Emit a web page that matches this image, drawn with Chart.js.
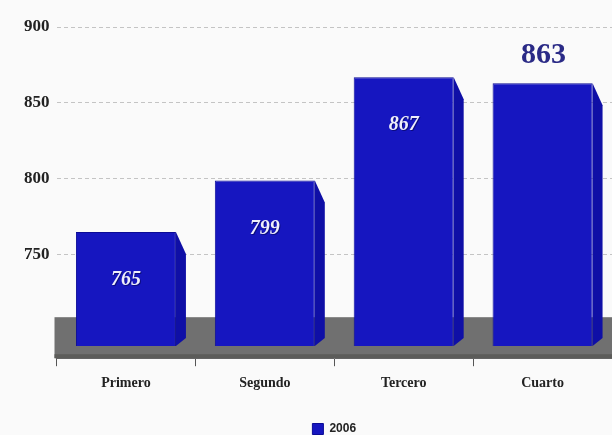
<!DOCTYPE html>
<html>
<head>
<meta charset="utf-8">
<script src="https://cdn.jsdelivr.net/npm/chart.js@4.4.1/dist/chart.umd.min.js"></script>
<style>
  html, body { margin: 0; padding: 0; background: #fafafa; overflow: hidden; }
  #wrap { width: 612px; height: 435px; }
</style>
</head>
<body>
<div id="wrap"><canvas id="c"></canvas></div>
<script>
// Quarterly totals, 2006
const quarters = ['Primero', 'Segundo', 'Tercero', 'Cuarto'];
const values2006 = [765, 799, 867, 863];
const seriesName = '2006';
const yTicks = [750, 800, 850, 900];
const axisMin = 682;
const axisMax = 900;
const barBase = 690;
// where each value label sits: inside the bar or above it
const labelPlacement = ['inside', 'inside', 'inside', 'above'];

const BAR_BLUE = '#1616c0';
const SIDE_BLUE = '#0f0fa6';

// gray floor under the bars
const floorPlugin = {
  id: 'floor',
  beforeDatasetsDraw(chart) {
    const { ctx, chartArea } = chart;
    const top = chartArea.bottom - 41;
    ctx.save();
    ctx.fillStyle = '#707070';
    ctx.fillRect(chartArea.left - 2, top, chartArea.right - chartArea.left + 2, chartArea.bottom - top);
    ctx.fillStyle = '#5c5c5a';
    ctx.fillRect(chartArea.left - 2, chartArea.bottom - 4, chartArea.right - chartArea.left + 2, 4);
    ctx.restore();
  }
};

// side faces for a 3D look, plus value labels
const barDecor = {
  id: 'barDecor',
  afterDatasetsDraw(chart) {
    const { ctx } = chart;
    const meta = chart.getDatasetMeta(0);
    ctx.save();
    meta.data.forEach((bar, i) => {
      const right = bar.x + bar.width / 2;
      ctx.fillStyle = SIDE_BLUE;
      ctx.beginPath();
      ctx.moveTo(right, bar.y);
      ctx.lineTo(right + 10, bar.y + 22);
      ctx.lineTo(right + 10, bar.base - 8);
      ctx.lineTo(right, bar.base);
      ctx.closePath();
      ctx.fill();

      const v = values2006[i];
      ctx.textAlign = 'center';
      ctx.textBaseline = 'middle';
      if (labelPlacement[i] === 'inside') {
        ctx.font = 'italic bold 20px "Liberation Serif", serif';
        ctx.fillStyle = 'rgba(0,0,60,0.5)';
        ctx.fillText(String(v), bar.x + 1, bar.y + 49);
        ctx.fillStyle = '#eeeefa';
        ctx.fillText(String(v), bar.x, bar.y + 48);
      } else {
        ctx.font = 'bold 30px "Liberation Serif", serif';
        ctx.fillStyle = '#2a2a86';
        ctx.fillText(String(v), bar.x + 1, bar.y - 28);
      }
    });
    ctx.restore();
  }
};

new Chart(document.getElementById('c'), {
  type: 'bar',
  data: {
    labels: quarters,
    datasets: [{
      label: seriesName,
      data: values2006,
      base: barBase,
      backgroundColor: BAR_BLUE,
      borderColor: '#0b0b96',
      borderWidth: 1,
      barPercentage: 0.8,
      categoryPercentage: 0.9
    }]
  },
  options: {
    responsive: true,
    maintainAspectRatio: false,
    animation: false,
    layout: { padding: { top: 27, left: 17, right: 0, bottom: -10 } },
    plugins: {
      tooltip: { enabled: false },
      legend: {
        position: 'bottom',
        fullSize: false,
        labels: {
          boxWidth: 11,
          boxHeight: 11,
          padding: 22,
          color: '#222',
          font: { family: '"Liberation Sans", sans-serif', size: 12, weight: 'bold' }
        }
      }
    },
    scales: {
      x: {
        grid: { drawOnChartArea: false, drawTicks: true, tickLength: 8, color: '#555', offset: true },
        border: { display: true, color: '#666' },
        ticks: {
          padding: 9,
          color: '#222',
          font: { family: '"Liberation Serif", serif', size: 14, weight: 'bold' }
        }
      },
      y: {
        min: axisMin,
        max: axisMax,
        afterBuildTicks(scale) {
          scale.ticks = yTicks.map(v => ({ value: v }));
        },
        grid: { color: '#c4c4c4', drawTicks: false },
        border: { display: false, dash: [4, 3] },
        ticks: {
          padding: 7,
          color: '#222',
          font: { family: '"Liberation Serif", serif', size: 17, weight: 'bold' }
        }
      }
    }
  },
  plugins: [floorPlugin, barDecor]
});
</script>
</body>
</html>
